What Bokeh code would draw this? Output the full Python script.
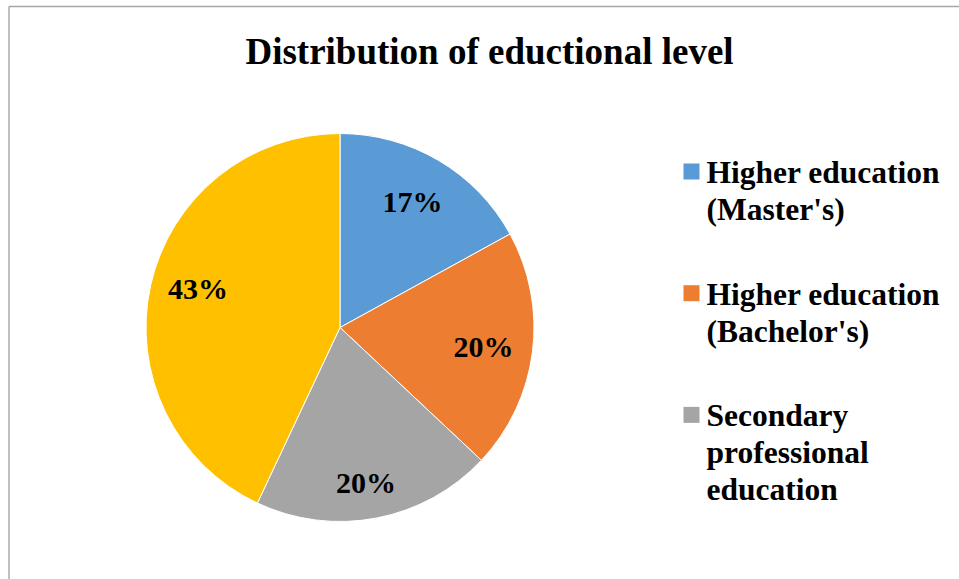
import math
import textwrap

from bokeh.plotting import figure
from bokeh.models import Range1d, ColumnDataSource
from bokeh.core.properties import value
from bokeh.embed import file_html
from bokeh.resources import INLINE

# ---------------- data ----------------
title_text = "Distribution of eductional level"
categories = [
    "Higher education (Master's)",
    "Higher education (Bachelor's)",
    "Secondary professional education",
    "General secondary education",
]
shares = [17, 20, 20, 43]
colors = ["#5B9BD5", "#ED7D31", "#A5A5A5", "#FFC000"]
legend_count = 3  # legend in the picture shows only the first three entries

# ---------------- layout ----------------
W, H = 959, 579


def sx(x):
    return x


def sy(y):
    return H - y


p = figure(width=W, height=H, x_range=Range1d(0, W), y_range=Range1d(0, H),
           output_backend="svg", toolbar_location=None,
           x_axis_type=None, y_axis_type=None, min_border=0)
p.grid.visible = False
p.outline_line_color = None
p.background_fill_color = "white"
p.border_fill_color = "white"

SERIF = value("Liberation Serif")

# chart-area border (only left and top visible in the crop)
bx, by = sx(8.5), sy(6)
p.segment(x0=[bx, bx], y0=[0, by], x1=[bx, W], y1=[by, by],
          line_color="#A6A6A6", line_width=1.4)

# title
p.text(x=[sx(489)], y=[sy(50.5)], text=[title_text], text_font=SERIF,
       text_font_style="bold", text_font_size="37px", text_align="center",
       text_baseline="alphabetic", text_color="black")

# pie
cx, cy, R = sx(339.5), sy(327), 194
total = float(sum(shares))
starts, ends = [], []
cum = 0.0
for v in shares:
    starts.append(math.pi / 2 - 2 * math.pi * cum / total)
    cum += v
    ends.append(math.pi / 2 - 2 * math.pi * cum / total)

src = ColumnDataSource(dict(start=starts, end=ends, color=colors, cat=categories, share=shares))
p.wedge(x=cx, y=cy, radius=R, radius_units="screen", start_angle="start",
        end_angle="end", direction="clock", fill_color="color",
        line_color="white", line_width=1, source=src)

# data labels (placed along each slice's mid-angle, with small nudges)
label_r = [0.75, 0.745, 0.81, 0.76]
label_nudge_deg = [-0.7, 0.0, 1.3, 3.1]
lx, ly, lt = [], [], []
for s, e, v, f, d in zip(starts, ends, shares, label_r, label_nudge_deg):
    m = (s + e) / 2 - math.radians(d)
    lx.append(cx + f * R * math.cos(m))
    ly.append(cy + f * R * math.sin(m) - 0.5)
    lt.append(f"{v}%")
p.text(x=lx, y=ly, text=lt, text_font=SERIF, text_font_style="bold",
       text_font_size="30px", text_align="center", text_baseline="middle",
       text_color="black")

# legend (manual)
entry_step = 121.7
line_step = 37
sq_x, sq_y0 = 691, 171
tx, ty0 = 706, 172
rx, ry, rc = [], [], []
tx_l, ty_l, tt_l = [], [], []
for i in range(legend_count):
    rx.append(sx(sq_x))
    ry.append(sy(sq_y0 + i * entry_step))
    rc.append(colors[i])
    for j, line in enumerate(textwrap.wrap(categories[i], width=17)):
        tx_l.append(sx(tx))
        ty_l.append(sy(ty0 + i * entry_step + j * line_step))
        tt_l.append(line)
p.rect(x=rx, y=ry, width=16, height=16, fill_color=rc, line_color=None)
p.text(x=tx_l, y=ty_l, text=tt_l, text_font=SERIF, text_font_style="bold",
       text_font_size="31.5px", text_align="left", text_baseline="alphabetic",
       text_color="black")

open("out.html", "w").write(file_html(p, INLINE))
